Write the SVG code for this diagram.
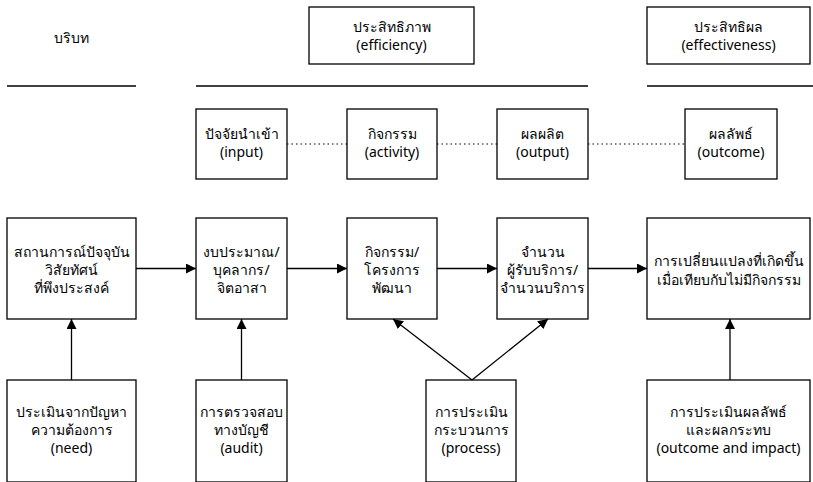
<svg xmlns="http://www.w3.org/2000/svg" width="813" height="482" viewBox="0 0 813 482">
<style>
rect{fill:#fff;stroke:#000;stroke-width:1.3}
text{font-family:"Noto Sans","DejaVu Sans",sans-serif;font-size:14px;fill:#000;text-anchor:middle}
.ln{stroke:#000;stroke-width:1.3;fill:none}
.dot{stroke:#000;stroke-width:1;stroke-dasharray:1.5 3;fill:none}
</style>
<defs>
<marker id="ah" viewBox="0 0 10 10" refX="10" refY="5" markerWidth="10" markerHeight="10" markerUnits="userSpaceOnUse" orient="auto">
<path d="M0,0 L10,5 L0,10 z" fill="#000"/>
</marker>
</defs>
<g id="headers">
<text x="71" y="43">บริบท</text>
<line class="ln" x1="7" y1="86" x2="136" y2="86"/>
<line class="ln" x1="196" y1="86" x2="588" y2="86"/>
<line class="ln" x1="647" y1="86" x2="813" y2="86"/>
</g>
<g id="efficiency"><rect x="309" y="7" width="165" height="57"/><text x="391.5" y="32">ประสิทธิภาพ</text><text x="391.5" y="50">(efficiency)</text></g>
<g id="effectiveness"><rect x="647" y="7" width="163" height="57"/><text x="728.5" y="32">ประสิทธิผล</text><text x="728.5" y="50">(effectiveness)</text></g>
<g id="input"><rect x="196" y="109" width="91" height="70"/><text x="241.5" y="139">ปัจจัยนำเข้า</text><text x="241.5" y="157">(input)</text></g>
<g id="activity"><rect x="347" y="109" width="90" height="70"/><text x="392" y="139">กิจกรรม</text><text x="392" y="157">(activity)</text></g>
<g id="output"><rect x="497" y="109" width="91" height="70"/><text x="542.5" y="139">ผลผลิต</text><text x="542.5" y="157">(output)</text></g>
<g id="outcome"><rect x="685" y="109" width="92" height="70"/><text x="731" y="139">ผลลัพธ์</text><text x="731" y="157">(outcome)</text></g>
<g id="situation"><rect x="7" y="218" width="129" height="101"/><text x="71.5" y="257">สถานการณ์ปัจจุบัน</text><text x="71.5" y="275">วิสัยทัศน์</text><text x="71.5" y="293">ที่พึงประสงค์</text></g>
<g id="budget"><rect x="196" y="218" width="91" height="101"/><text x="241.5" y="257">งบประมาณ/</text><text x="241.5" y="275">บุคลากร/</text><text x="241.5" y="293">จิตอาสา</text></g>
<g id="project"><rect x="347" y="218" width="90" height="101"/><text x="392" y="257">กิจกรรม/</text><text x="392" y="275">โครงการ</text><text x="392" y="293">พัฒนา</text></g>
<g id="served"><rect x="497" y="218" width="91" height="101"/><text x="542.5" y="257">จำนวน</text><text x="542.5" y="275">ผู้รับบริการ/</text><text x="542.5" y="293">จำนวนบริการ</text></g>
<g id="change"><rect x="647" y="218" width="163" height="101"/><text x="728.5" y="266">การเปลี่ยนแปลงที่เกิดขึ้น</text><text x="728.5" y="285">เมื่อเทียบกับไม่มีกิจกรรม</text></g>
<g id="need"><rect x="7" y="380" width="129" height="102"/><text x="71.5" y="417">ประเมินจากปัญหา</text><text x="71.5" y="435">ความต้องการ</text><text x="71.5" y="453">(need)</text></g>
<g id="audit"><rect x="196" y="380" width="91" height="102"/><text x="241.5" y="417">การตรวจสอบ</text><text x="241.5" y="435">ทางบัญชี</text><text x="241.5" y="453">(audit)</text></g>
<g id="process"><rect x="426" y="380" width="90" height="102"/><text x="471" y="417">การประเมิน</text><text x="471" y="435">กระบวนการ</text><text x="471" y="453">(process)</text></g>
<g id="impact"><rect x="647" y="380" width="163" height="102"/><text x="728.5" y="417">การประเมินผลลัพธ์</text><text x="728.5" y="435">และผลกระทบ</text><text x="728.5" y="453">(outcome and impact)</text></g>
<g id="connectors">
<line class="dot" x1="287" y1="144" x2="347" y2="144"/>
<line class="dot" x1="437" y1="144" x2="497" y2="144"/>
<line class="dot" x1="588" y1="144" x2="685" y2="144"/>
<line class="ln" x1="136" y1="268.5" x2="196" y2="268.5" marker-end="url(#ah)"/>
<line class="ln" x1="287" y1="268.5" x2="347" y2="268.5" marker-end="url(#ah)"/>
<line class="ln" x1="437" y1="268.5" x2="497" y2="268.5" marker-end="url(#ah)"/>
<line class="ln" x1="588" y1="268.5" x2="647" y2="268.5" marker-end="url(#ah)"/>
<line class="ln" x1="71.5" y1="380" x2="71.5" y2="319" marker-end="url(#ah)"/>
<line class="ln" x1="241.5" y1="380" x2="241.5" y2="319" marker-end="url(#ah)"/>
<line class="ln" x1="730" y1="380" x2="730" y2="319" marker-end="url(#ah)"/>
<line class="ln" x1="472" y1="380" x2="393" y2="319" marker-end="url(#ah)"/>
<line class="ln" x1="472" y1="380" x2="548" y2="319" marker-end="url(#ah)"/>
</g>
</svg>
